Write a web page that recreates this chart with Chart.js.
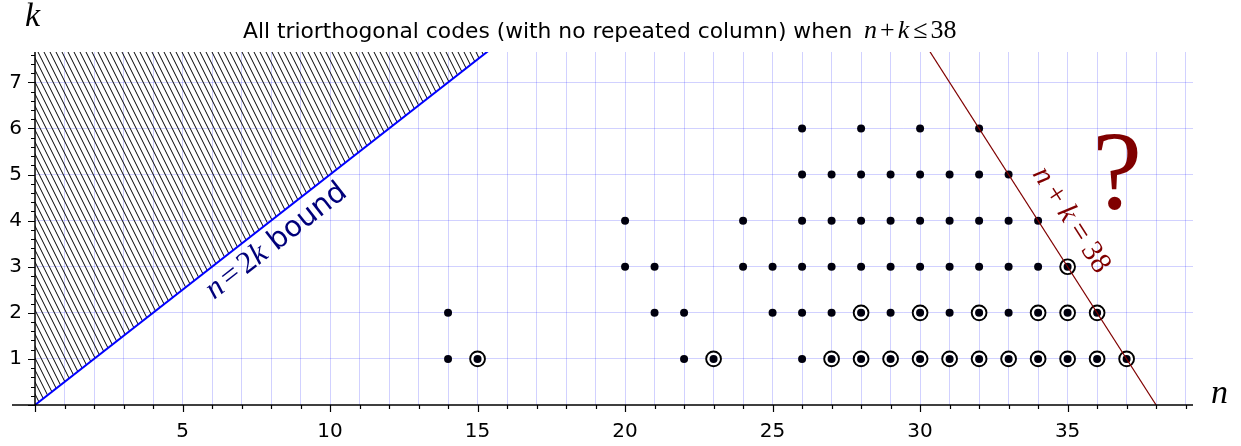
<!DOCTYPE html>
<html>
<head>
<meta charset="utf-8">
<script src="https://cdn.jsdelivr.net/npm/chart.js@4.4.0/dist/chart.umd.min.js"></script>
<style>
  html, body { margin: 0; padding: 0; background: #fff; }
  canvas { display: block; }
</style>
</head>
<body>
<canvas id="codesChart" width="1241" height="446"></canvas>
<script>
// Known triorthogonal codes, one row per dimension k (values are the lengths n)
const rowK = [1, 2, 3, 4, 5, 6];
const rowK1 = [14, 15, 22, 23, 26, 27, 28, 29, 30, 31, 32, 33, 34, 35, 36, 37];
const rowK2 = [14, 21, 22, 25, 26, 27, 28, 29, 30, 31, 32, 33, 34, 35, 36];
const rowK3 = [20, 21, 24, 25, 26, 27, 28, 29, 30, 31, 32, 33, 34, 35];
const rowK4 = [20, 24, 26, 27, 28, 29, 30, 31, 32, 33, 34];
const rowK5 = [26, 27, 28, 29, 30, 31, 32, 33];
const rowK6 = [26, 28, 30, 32];

// Codes drawn with a ring round the dot
const circledK1 = [15, 23, 27, 28, 29, 30, 31, 32, 33, 34, 35, 36, 37];
const circledK2 = [28, 30, 32, 34, 35, 36];
const circledK3 = [35];

// Two straight lines: n = 2k and n + k = 38
const boundN = [0, 16];
const boundK = [0, 8];
const sumN = [30, 38];
const sumK = [8, 0];

const xTicks = [5, 10, 15, 20, 25, 30, 35];
const yTicks = [1, 2, 3, 4, 5, 6, 7];

function toPoints(ns, k) {
    return ns.map(n => ({ x: n, y: k }));
}

const dots = [rowK1, rowK2, rowK3, rowK4, rowK5, rowK6]
    .flatMap((row, i) => toPoints(row, rowK[i]));
const rings = [circledK1, circledK2, circledK3]
    .flatMap((row, i) => toPoints(row, rowK[i]));

// Diagonal hatching for the region above n = 2k
function hatchPattern(ctx) {
    const c = document.createElement('canvas');
    c.width = 6;
    c.height = 12;
    const g = c.getContext('2d');
    g.strokeStyle = '#000';
    g.lineWidth = 1;
    for (const dx of [-6, 0, 6]) {
        g.beginPath();
        g.moveTo(dx, 0);
        g.lineTo(dx + 6, 12);
        g.stroke();
    }
    return ctx.createPattern(c, 'repeat');
}

const mathIt = size => 'italic ' + size + 'px "Liberation Serif"';
const mathRm = size => size + 'px "Liberation Serif"';

// draw text pieces one after another: [text, font, gap after]
function runWidth(g, parts) {
    let w = 0;
    for (const [t, f, gap] of parts) {
        g.font = f;
        w += g.measureText(t).width + (gap || 0);
    }
    return w;
}
function drawRun(g, parts, x, y) {
    for (const [t, f, gap] of parts) {
        g.font = f;
        g.fillText(t, x, y);
        x += g.measureText(t).width + (gap || 0);
    }
}

const decorations = {
    id: 'decorations',
    afterDraw(chart) {
        const g = chart.ctx;
        const xs = chart.scales.x;
        const ys = chart.scales.y;
        const area = chart.chartArea;
        const x0 = xs.getPixelForValue(0);
        const y0 = ys.getPixelForValue(0);

        g.save();
        // axes
        g.strokeStyle = '#000';
        g.lineWidth = 1.5;
        g.beginPath();
        g.moveTo(12, y0);
        g.lineTo(area.right, y0);
        g.moveTo(x0, area.top);
        g.lineTo(x0, y0);
        g.stroke();

        // tick marks
        g.lineWidth = 1.2;
        g.beginPath();
        for (let n = 0; n <= Math.floor(xs.max); n++) {
            const px = Math.round(xs.getPixelForValue(n)) + 0.5;
            g.moveTo(px, y0);
            g.lineTo(px, y0 + (n % 5 === 0 ? 7 : 4));
        }
        for (let i = 0; i * 0.2 <= ys.max; i++) {
            const py = Math.round(ys.getPixelForValue(i * 0.2)) + 0.5;
            g.moveTo(x0, py);
            g.lineTo(x0 - (i % 5 === 0 ? 7 : 4), py);
        }
        g.stroke();

        // title
        g.fillStyle = '#000';
        g.textBaseline = 'alphabetic';
        g.textAlign = 'left';
        drawRun(g, [
            ['All triorthogonal codes (with no repeated column) when ', '21.8px "DejaVu Sans"', 5],
            ['n', mathIt(26), 3], ['+', mathRm(26), 3], ['k', mathIt(26), 4],
            ['\u2264', mathRm(26), 3], ['38', mathRm(26), 0]
        ], 243, 38);

        // axis names
        g.font = mathIt(34);
        g.fillText('k', 25, 26);
        g.fillText('n', 1211, 403);

        // n = 2k bound label, along the blue line
        const bx = xs.getPixelForValue(boundN[1]) - xs.getPixelForValue(boundN[0]);
        const by = ys.getPixelForValue(boundK[1]) - ys.getPixelForValue(boundK[0]);
        g.save();
        g.translate(214, 300);
        g.rotate(Math.atan2(by, bx));
        g.fillStyle = '#00007a';
        drawRun(g, [
            ['n', mathIt(31), 4], ['=', mathRm(31), 4], ['2', mathRm(31), 0],
            ['k', mathIt(31), 9], ['bound', '29px "DejaVu Sans"', 0]
        ], 0, 0);
        g.restore();

        // n + k = 38 label, along the red line
        const sx = xs.getPixelForValue(sumN[1]) - xs.getPixelForValue(sumN[0]);
        const sy = ys.getPixelForValue(sumK[1]) - ys.getPixelForValue(sumK[0]);
        const sumParts = [
            ['n', mathIt(30), 7], ['+', mathRm(30), 7], ['k', mathIt(30), 7],
            ['=', mathRm(30), 7], ['38', mathRm(30), 0]
        ];
        g.save();
        g.translate(1071, 220);
        g.rotate(Math.atan2(sy, sx));
        g.fillStyle = '#800000';
        g.textBaseline = 'middle';
        drawRun(g, sumParts, -runWidth(g, sumParts) / 2, 0);
        g.restore();

        // big question mark
        g.fillStyle = '#800000';
        g.font = '112px "Liberation Serif"';
        g.textAlign = 'center';
        g.fillText('?', 1117, 208);

        g.restore();
    }
};

const canvas = document.getElementById('codesChart');
const ctx = canvas.getContext('2d');

new Chart(ctx, {
    type: 'scatter',
    data: {
        datasets: [
            {
                label: 'n = 2k',
                data: boundN.map((n, i) => ({ x: n, y: boundK[i] })),
                showLine: true,
                borderColor: '#0000ff',
                borderWidth: 2,
                pointRadius: 0,
                fill: 'end',
                backgroundColor: hatchPattern(ctx),
                order: 3
            },
            {
                label: 'n + k = 38',
                data: sumN.map((n, i) => ({ x: n, y: sumK[i] })),
                showLine: true,
                borderColor: '#800000',
                borderWidth: 1.2,
                pointRadius: 0,
                fill: false,
                order: -1
            },
            {
                label: 'circled',
                data: rings,
                pointRadius: 7.4,
                borderWidth: 1.9,
                borderColor: '#000',
                backgroundColor: '#fff',
                order: 1
            },
            {
                label: 'codes',
                data: dots,
                pointRadius: 4,
                borderWidth: 0,
                backgroundColor: '#00000e',
                order: 0
            }
        ]
    },
    options: {
        responsive: false,
        animation: false,
        devicePixelRatio: 1,
        layout: { padding: { top: 52, right: 48, left: 0, bottom: 0 } },
        plugins: {
            legend: { display: false },
            tooltip: { enabled: false },
            title: { display: false }
        },
        scales: {
            x: {
                type: 'linear',
                min: 0,
                max: 39.25,
                afterFit: scale => { scale.height = 41; },
                ticks: {
                    stepSize: 1,
                    includeBounds: false,
                    autoSkip: false,
                    maxRotation: 0,
                    padding: 15,
                    color: '#000',
                    font: { family: 'DejaVu Sans', size: 20 },
                    callback: v => xTicks.includes(v) ? String(v) : ''
                },
                grid: {
                    drawTicks: false,
                    color: c => (c.tick && c.tick.value === 0) ? 'rgba(0,0,0,0)' : 'rgba(0,0,255,0.18)'
                },
                border: { display: false }
            },
            y: {
                type: 'linear',
                min: 0,
                max: 7.66,
                afterFit: scale => { scale.width = 35; },
                ticks: {
                    stepSize: 1,
                    includeBounds: false,
                    autoSkip: false,
                    padding: 13,
                    color: '#000',
                    font: { family: 'DejaVu Sans', size: 20 },
                    callback: v => yTicks.includes(v) ? String(v) : ''
                },
                grid: {
                    drawTicks: false,
                    color: c => (c.tick && c.tick.value === 0) ? 'rgba(0,0,0,0)' : 'rgba(0,0,255,0.18)'
                },
                border: { display: false }
            }
        }
    },
    plugins: [decorations]
});
</script>
</body>
</html>
